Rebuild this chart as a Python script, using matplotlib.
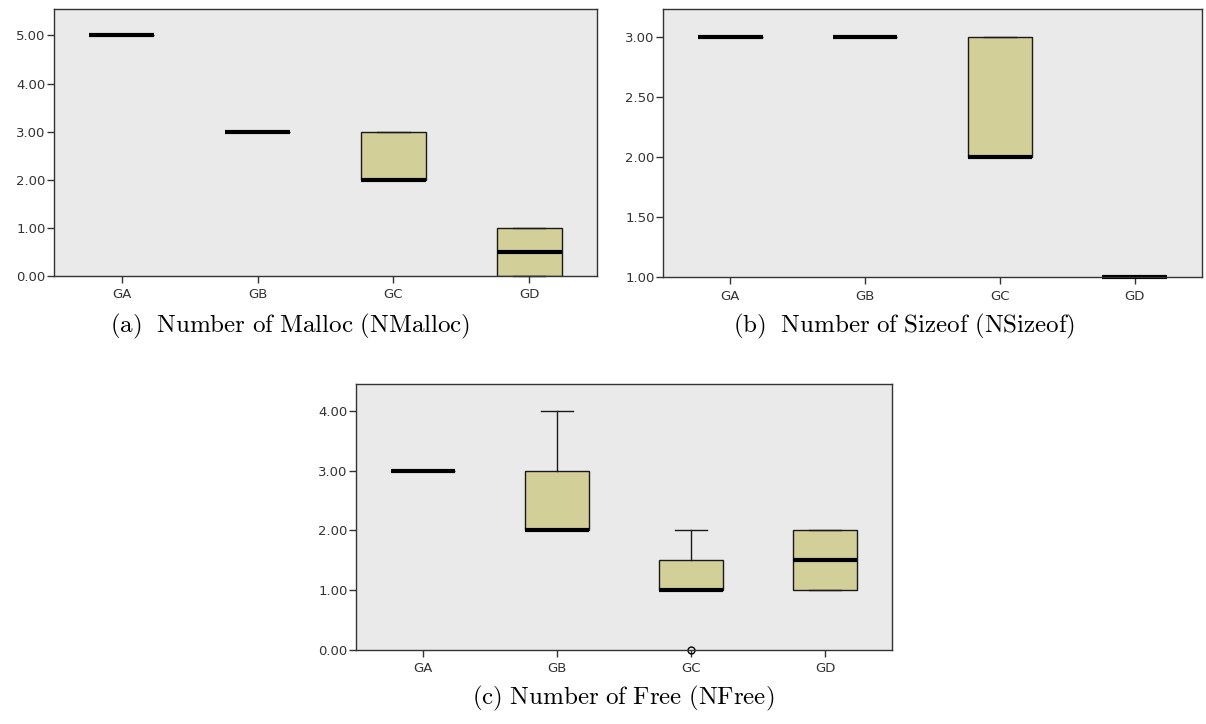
import numpy as np
import matplotlib
matplotlib.use('Agg')
import matplotlib.pyplot as plt

plt.rcParams['mathtext.fontset'] = 'cm'

groups = ['GA', 'GB', 'GC', 'GD']

# NMalloc: lower whisker, q1, median, q3, upper whisker
malloc_lo = [5, 3, 2, 0]
malloc_q1 = [5, 3, 2, 0]
malloc_med = [5, 3, 2, 0.5]
malloc_q3 = [5, 3, 3, 1]
malloc_hi = [5, 3, 3, 1]
malloc_fliers = [[], [], [], []]

# NSizeof
sizeof_lo = [3, 3, 2, 1]
sizeof_q1 = [3, 3, 2, 1]
sizeof_med = [3, 3, 2, 1]
sizeof_q3 = [3, 3, 3, 1]
sizeof_hi = [3, 3, 3, 1]
sizeof_fliers = [[], [], [], []]

# NFree
free_lo = [3, 2, 1, 1]
free_q1 = [3, 2, 1, 1]
free_med = [3, 2, 1, 1.5]
free_q3 = [3, 3, 1.5, 2]
free_hi = [3, 4, 2, 2]
free_fliers = [[], [], [0], []]

bg = '#EAEAEA'
boxcol = '#D3CF99'


def make_stats(lo, q1, med, q3, hi, fl):
    stats = []
    for i in range(len(groups)):
        stats.append({'whislo': lo[i], 'q1': q1[i], 'med': med[i], 'q3': q3[i],
                      'whishi': hi[i], 'fliers': fl[i], 'label': groups[i]})
    return stats


def draw_panel(rect, stats, ylim, yticks, caption, cap_xy):
    ax = fig.add_axes(rect)
    ax.set_facecolor(bg)
    ax.bxp(stats, positions=[1, 2, 3, 4], widths=0.48, capwidths=0.24,
           patch_artist=True, showfliers=True,
           boxprops=dict(facecolor=boxcol, edgecolor='#1a1a1a', linewidth=1.0),
           medianprops=dict(color='black', linewidth=3.0, solid_capstyle='butt'),
           whiskerprops=dict(color='#1a1a1a', linewidth=1.0),
           capprops=dict(color='#1a1a1a', linewidth=1.0),
           flierprops=dict(marker='o', markerfacecolor='none', markeredgecolor='black',
                           markersize=5, markeredgewidth=1.0))
    ax.set_xlim(0.5, 4.5)
    ax.set_ylim(*ylim)
    ax.set_yticks(yticks)
    ax.set_yticklabels(['%.2f' % v for v in yticks])
    ax.set_xticks([1, 2, 3, 4])
    ax.set_xticklabels(groups)
    ax.tick_params(axis='both', direction='out', length=5, width=1.0,
                   labelsize=9.5, labelcolor='#333333', color='#333333', pad=1)
    ax.tick_params(axis='x', pad=4)
    for s in ax.spines.values():
        s.set_color('#333333')
        s.set_linewidth(1.0)
    for art in ax.lines:
        art.set_clip_on(False)
    fig.text(cap_xy[0], cap_xy[1], caption, ha='center', va='center', fontsize=18)
    return ax


fig = plt.figure(figsize=(12.06, 7.24), dpi=100)

draw_panel([54 / 1206, 1 - 276 / 724, 543 / 1206, 267 / 724],
           make_stats(malloc_lo, malloc_q1, malloc_med, malloc_q3, malloc_hi, malloc_fliers),
           (0, 5.55), [0, 1, 2, 3, 4, 5],
           r'$\mathrm{(a)\ \ Number\ of\ Malloc\ (NMalloc)}$', (290 / 1206, 1 - 326 / 724))

draw_panel([663 / 1206, 1 - 277 / 724, 539 / 1206, 268 / 724],
           make_stats(sizeof_lo, sizeof_q1, sizeof_med, sizeof_q3, sizeof_hi, sizeof_fliers),
           (1, 3.23), [1.0, 1.5, 2.0, 2.5, 3.0],
           r'$\mathrm{(b)\ \ Number\ of\ Sizeof\ (NSizeof)}$', (904 / 1206, 1 - 326 / 724))

draw_panel([356 / 1206, 1 - 650 / 724, 536 / 1206, 266 / 724],
           make_stats(free_lo, free_q1, free_med, free_q3, free_hi, free_fliers),
           (0, 4.45), [0, 1, 2, 3, 4],
           r'$\mathrm{(c)\ Number\ of\ Free\ (NFree)}$', (623 / 1206, 1 - 698 / 724))

plt.savefig('out.png', dpi=100)
